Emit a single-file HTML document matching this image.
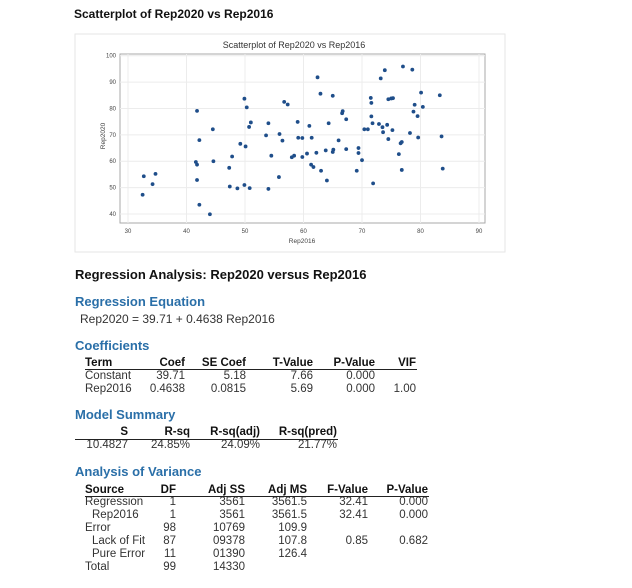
<!DOCTYPE html>
<html><head><meta charset="utf-8">
<style>
body{margin:0;width:632px;height:588px;background:#fff;font-family:"Liberation Sans",sans-serif;position:relative;overflow:hidden}
.t{position:absolute;white-space:nowrap;font-size:11.5px;color:#333;line-height:13px}
.b{font-weight:bold;color:#111}
.h{font-weight:bold;color:#2a6fa8;font-size:13px}
.hl{position:absolute;height:1px;background:#222}
</style></head><body>
<div class="t b" style="left:74px;top:8px;font-size:12px">Scatterplot of Rep2020 vs Rep2016</div>
<svg id="chart" width="632" height="260" style="position:absolute;left:0;top:0"></svg>

<div class="t b" style="left:75px;top:268px;font-size:13px">Regression Analysis: Rep2020 versus Rep2016</div>
<div class="t h" style="left:75px;top:295px">Regression Equation</div>
<div class="t" style="left:80px;top:313px;font-size:12px">Rep2020 = 39.71 + 0.4638 Rep2016</div>
<div class="t h" style="left:75px;top:339px">Coefficients</div>
<div id="coef"></div>
<div class="t h" style="left:75px;top:408px">Model Summary</div>
<div id="ms"></div>
<div class="t h" style="left:75px;top:465px">Analysis of Variance</div>
<div id="anova"></div>

<script>
const rep2016=[32.5,32.7,34.2,34.7,41.8,41.6,41.8,41.8,42.2,42.2,44.5,44.6,44,47.3,47.8,47.4,48.7,49.2,49.9,50.1,49.9,50.3,50.7,51,50.8,53.6,54,54.5,54,55.9,56.4,56.7,57.3,55.8,58,58.4,59,59.1,59.8,59.8,60.6,61,61.4,61.3,61.7,62.2,62.4,62.9,63,63.8,64,64.3,65,65.1,65,66,66.6,66.7,67.3,67.3,69.1,69.4,69.4,70,70.4,71,71.5,71.6,71.6,71.8,71.9,72.9,73.2,73.5,73.6,73.9,74.3,74.5,74.5,75,75.3,75.2,76.3,76.6,76.8,76.8,77,78.2,78.6,78.8,79,79.5,79.6,80.1,80.4,83.3,83.6,83.8];
const rep2020=[47.3,54.3,51.3,55.2,79.1,59.7,58.7,52.9,68,43.5,72.1,60,39.9,57.5,61.8,50.4,49.7,66.6,83.7,65.6,51,80.4,73,74.7,49.8,69.8,74.4,62.1,49.5,70.3,67.8,82.5,81.5,54,61.5,62.1,74.9,68.9,68.8,61.6,62.9,73.4,68.9,58.7,57.8,63.2,91.8,85.6,56.4,64.1,52.7,74.4,84.8,64.4,63.5,67.9,78.2,79,75.9,64.6,56.4,65,63.1,60.4,72.1,72.1,84,82.1,77,74.4,51.6,74.1,91.4,72.9,71,94.5,73.8,83.5,68.4,83.8,83.9,71.8,62.7,66.8,67.3,56.7,95.9,70.7,94.7,78.8,81.4,77.1,69,86,80.6,85,69.4,57.2];
const xTicks=[30,40,50,60,70,80,90];
const yTicks=[40,50,60,70,80,90,100];
const NS="http://www.w3.org/2000/svg";
const svg=document.getElementById('chart');
const X=v=>128+(v-30)*(479-128)/60;
const Y=v=>214-(v-40)*(214-55.7)/60;
function mk(t,a,p){const e=document.createElementNS(NS,t);for(const k in a)e.setAttribute(k,a[k]);(p||svg).appendChild(e);return e;}
const box=mk('rect',{x:75,y:34,width:430,height:218,fill:'#fff',stroke:'#e6e6e6'});


const frame=mk('rect',{x:120,y:54,width:365,height:169,fill:'none',stroke:'#aaa'});


xTicks.forEach(v=>{
 const g=mk('line',{x1:X(v),x2:X(v),y1:54,y2:223,stroke:'#ececec'});
 
 
 const t=mk('text',{x:X(v),y:233,'text-anchor':'middle','font-size':6,fill:'#444','font-family':'Liberation Sans, sans-serif'});
 t.textContent=v;
 
 
});
yTicks.forEach(v=>{
 const g=mk('line',{x1:120,x2:485,y1:Y(v),y2:Y(v),stroke:'#ececec'});
 
 
 const t=mk('text',{x:116,y:Y(v)+2,'text-anchor':'end','font-size':6,fill:'#444','font-family':'Liberation Sans, sans-serif'});
 t.textContent=v;
 
 
});
const ct=mk('text',{x:294,y:48,'text-anchor':'middle','font-size':9,fill:'#333','font-family':'Liberation Sans, sans-serif'});
ct.textContent='Scatterplot of Rep2020 vs Rep2016';


const xt=mk('text',{x:302,y:243,'text-anchor':'middle','font-size':6.5,fill:'#444','font-family':'Liberation Sans, sans-serif'});
xt.textContent='Rep2016';


const yt=mk('text',{x:0,y:0,'text-anchor':'middle','font-size':6.5,fill:'#444','font-family':'Liberation Sans, sans-serif',transform:'translate(105,136) rotate(-90)'});
yt.textContent='Rep2020';


rep2016.forEach((v,i)=>{
 const c=mk('circle',{cx:X(v),cy:Y(rep2020[i]),r:1.9,fill:'#1f4e8a'});
 
 
});

function table(id,rows,cols,ys,lineY,x0,x1){
 const host=document.getElementById(id);
 rows.forEach((row,ri)=>{row.forEach((txt,ci)=>{
  const d=document.createElement('div');
  d.className='t'+(ri==0?' b':'');
  const c=cols[ci];
  if(c[1]=='l'){d.style.left=c[0]+'px';}else{d.style.right=(632-c[0])+'px';}
  d.style.top=(ys[ri]-6)+'px';
  d.textContent=txt;
  
  
  host.appendChild(d);
 });});
 const l=document.createElement('div');l.className='hl';
 l.style.left=x0+'px';l.style.width=(x1-x0)+'px';l.style.top=lineY+'px';
 
 
 host.appendChild(l);
}
table('coef',[["Term","Coef","SE Coef","T-Value","P-Value","VIF"],["Constant","39.71","5.18","7.66","0.000",""],["Rep2016","0.4638","0.0815","5.69","0.000","1.00"]],
 [[85,'l'],[185,'r'],[246,'r'],[313,'r'],[375,'r'],[416,'r']],[363,376,389],369,85,417);
table('ms',[["S","R-sq","R-sq(adj)","R-sq(pred)"],["10.4827","24.85%","24.09%","21.77%"]],
 [[128,'r'],[190,'r'],[260,'r'],[337,'r']],[432,445],439,75,338);
table('anova',[["Source","DF","Adj SS","Adj MS","F-Value","P-Value"],["Regression","1","3561","3561.5","32.41","0.000"],["  Rep2016","1","3561","3561.5","32.41","0.000"],["Error","98","10769","109.9","",""],["  Lack of Fit","87","09378","107.8","0.85","0.682"],["  Pure Error","11","01390","126.4","",""],["Total","99","14330","","",""]],
 [[85,'l'],[176,'r'],[245,'r'],[307,'r'],[368,'r'],[428,'r']],[490,502,515,528,541,554,567],496,85,429);
document.querySelectorAll('#anova .t').forEach(d=>{if(d.textContent.startsWith('  ')){d.style.left='92px';d.textContent=d.textContent.trim();}});
</script>
</body></html>
